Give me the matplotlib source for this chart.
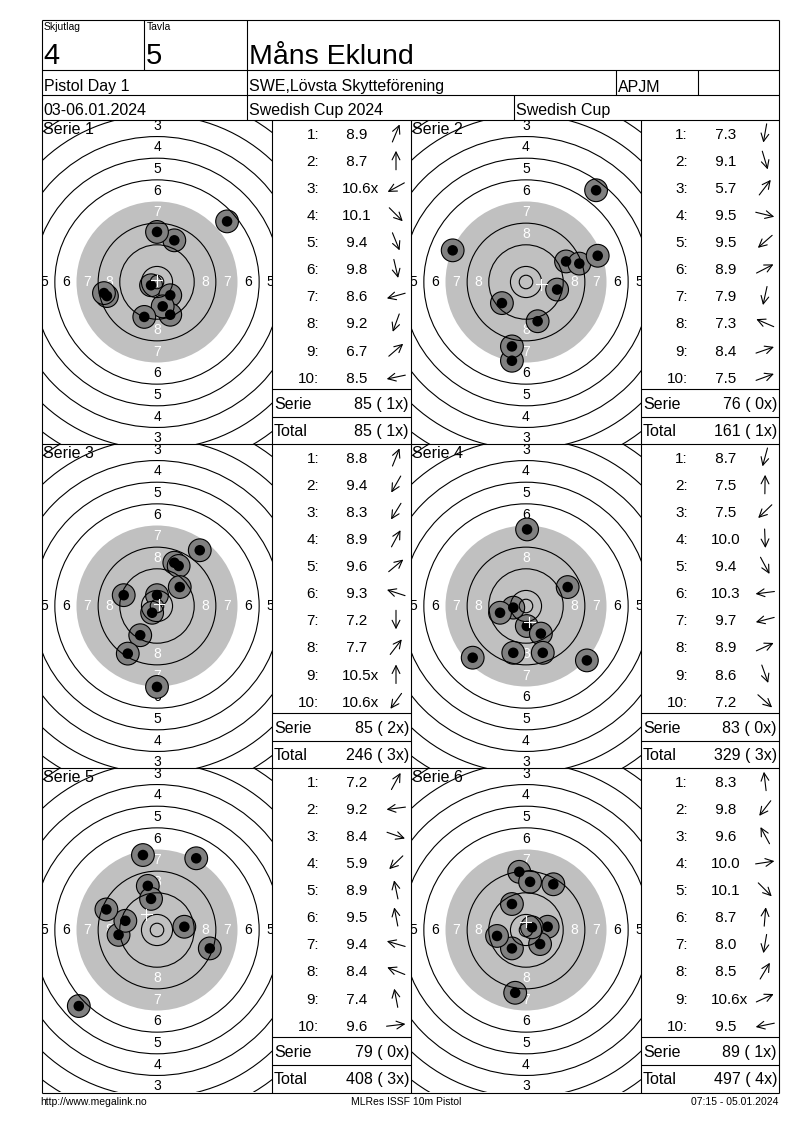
import math
import matplotlib
matplotlib.use("Agg")
import matplotlib.pyplot as plt
from matplotlib.patches import Circle, FancyArrowPatch

plt.rcParams['font.family'] = ['Liberation Sans', 'DejaVu Sans']

# ---------------- data ----------------
shooter_name = "Måns Eklund"
relay_label, relay_value = "Skjutlag", "4"
lane_label, lane_value = "Tavla", "5"
event_name = "Pistol Day 1"
club_name = "SWE,Lövsta Skytteförening"
class_code = "APJM"
date_text = "03-06.01.2024"
competition = "Swedish Cup 2024"
cup_name = "Swedish Cup"
footer_left = "http://www.megalink.no"
footer_mid = "MLRes ISSF 10m Pistol"
footer_right = "07:15 - 05.01.2024"

series_labels = ["Serie 1", "Serie 2", "Serie 3", "Serie 4", "Serie 5", "Serie 6"]

# shot values per series
scores_s1 = [8.9, 8.7, 10.6, 10.1, 9.4, 9.8, 8.6, 9.2, 6.7, 8.5]
scores_s2 = [7.3, 9.1, 5.7, 9.5, 9.5, 8.9, 7.9, 7.3, 8.4, 7.5]
scores_s3 = [8.8, 9.4, 8.3, 8.9, 9.6, 9.3, 7.2, 7.7, 10.5, 10.6]
scores_s4 = [8.7, 7.5, 7.5, 10.0, 9.4, 10.3, 9.7, 8.9, 8.6, 7.2]
scores_s5 = [7.2, 9.2, 8.4, 5.9, 8.9, 9.5, 9.4, 8.4, 7.4, 9.6]
scores_s6 = [8.3, 9.8, 9.6, 10.0, 10.1, 8.7, 8.0, 8.5, 10.6, 9.5]

# inner-ten flags
inner_s1 = [0, 0, 1, 0, 0, 0, 0, 0, 0, 0]
inner_s2 = [0, 0, 0, 0, 0, 0, 0, 0, 0, 0]
inner_s3 = [0, 0, 0, 0, 0, 0, 0, 0, 1, 1]
inner_s4 = [0, 0, 0, 0, 0, 0, 0, 0, 0, 0]
inner_s5 = [0, 0, 0, 0, 0, 0, 0, 0, 0, 0]
inner_s6 = [0, 0, 0, 0, 0, 0, 0, 0, 1, 0]

# shot positions on the target (mm, x right, y up)
x_s1 = [6.4, 0.0, -2.2, 4.9, 4.9, 2.1, -18.5, -4.7, 25.9, -19.6]
y_s1 = [15.4, 18.5, -1.2, -4.9, -12.1, -9.0, -5.2, -12.9, 22.4, -4.1]
x_s2 = [-5.2, 4.3, 25.9, 11.5, -8.9, 14.8, -5.2, -27.1, 19.7, 26.5]
y_s2 = [-29.1, -14.5, 33.9, -2.8, -7.8, 7.6, -23.8, 11.7, 6.8, 9.7]
x_s3 = [6.4, -6.2, -10.8, 8.0, 8.4, -12.3, 0.0, 15.8, 0.0, -1.8]
y_s3 = [16.0, -10.8, -17.6, 14.8, 7.0, 4.0, -29.9, 20.6, 4.0, -2.5]
x_s4 = [-4.7, 0.4, -19.7, 0.3, 5.5, -4.7, -9.6, 15.4, 6.2, 22.5]
y_s4 = [-17.3, 28.3, -19.1, -7.4, -10.2, -0.6, -2.5, 7.0, -17.3, -20.1]
x_s5 = [14.5, -14.2, 19.5, -28.9, -3.4, -2.2, -11.7, -18.7, -5.2, 10.1]
y_s5 = [26.5, -1.8, -6.8, -28.1, 16.3, 11.5, 3.4, 7.6, 27.7, 1.2]
x_s6 = [-2.5, -5.2, -5.2, 8.0, 5.2, 1.5, -4.0, 10.1, 2.2, -10.7]
y_s6 = [21.5, -6.8, 9.6, 1.2, -5.2, 17.8, -23.2, 16.9, 1.0, -2.2]

# 10m pistol target ring radii (mm), ring 1 .. ring 10, plus inner ten
ring_numbers = [1, 2, 3, 4, 5, 6, 7, 8, 9, 10]
ring_radius_mm = [77.75, 69.75, 61.75, 53.75, 45.75, 37.75, 29.75, 21.75, 13.75, 5.75]
inner_ten_mm = 2.5
labelled_rings = [1, 2, 3, 4, 5, 6, 7, 8]

all_scores = [scores_s1, scores_s2, scores_s3, scores_s4, scores_s5, scores_s6]
all_inner = [inner_s1, inner_s2, inner_s3, inner_s4, inner_s5, inner_s6]
all_x = [x_s1, x_s2, x_s3, x_s4, x_s5, x_s6]
all_y = [y_s1, y_s2, y_s3, y_s4, y_s5, y_s6]

# ---------------- layout ----------------
W, H = 800, 1130
fig = plt.figure(figsize=(W / 100, H / 100), dpi=100)
fig.patch.set_facecolor("white")
PX_PER_MM = 2.706
LW = 0.8

L, R, T, B = 42, 779, 20, 1093
PANEL_TOP0 = 120
PANEL_H = 324
TARGET_W = 230
COL_LEFT = [42, 411]
TABLE_RIGHT = [411, 779]

GRAY_BLACK = "#c0c0c0"
SHOT_GRAY = "#808080"

# ---------------- targets ----------------
for i in range(6):
    r, c = divmod(i, 2)
    left = COL_LEFT[c]
    top = PANEL_TOP0 + r * PANEL_H
    tax = fig.add_axes([left / W, 1 - (top + PANEL_H) / H, TARGET_W / W, PANEL_H / H])
    hw = TARGET_W / 2 / PX_PER_MM
    hh = PANEL_H / 2 / PX_PER_MM
    tax.set_xlim(-hw, hw)
    tax.set_ylim(-hh, hh)
    tax.axis("off")

    tax.add_patch(Circle((0, 0), ring_radius_mm[6], fc=GRAY_BLACK, ec="none", zorder=1))

    for k in labelled_rings:
        rad = (ring_radius_mm[k - 1] + ring_radius_mm[k]) / 2
        col = "white" if k >= 7 else "black"
        for px, py in [(0, rad), (0, -rad), (rad, 0), (-rad, 0)]:
            if abs(px) >= hw or abs(py) >= hh:
                continue
            tax.text(px, py, str(k), ha="center", va="center", fontsize=10,
                     color=col, zorder=1.5, clip_on=True)

    xs, ys = all_x[i], all_y[i]
    for x, y in zip(xs, ys):
        tax.add_patch(Circle((x, y), 4.2, fc=SHOT_GRAY, ec="black", lw=LW, zorder=2))
        tax.add_patch(Circle((x, y), 1.95, fc="black", ec="none", zorder=2.1))

    for num, rad in zip(ring_numbers, ring_radius_mm):
        if num == 7:
            continue
        tax.add_patch(Circle((0, 0), rad, fill=False, ec="black", lw=LW, zorder=3))
    tax.add_patch(Circle((0, 0), inner_ten_mm, fill=False, ec="black", lw=LW, zorder=3))

    mx = sum(xs) / len(xs)
    my = sum(ys) / len(ys)
    cs = 2.0
    tax.plot([mx - cs, mx + cs], [my, my], color="white", lw=LW, zorder=5)
    tax.plot([mx, mx], [my - cs, my + cs], color="white", lw=LW, zorder=5)

# ---------------- overlay (frames, texts, tables) ----------------
ax = fig.add_axes([0, 0, 1, 1])
ax.set_xlim(0, W)
ax.set_ylim(H, 0)
ax.axis("off")


def hline(y, x0, x1):
    ax.plot([x0, x1], [y, y], color="black", lw=LW, solid_capstyle="butt")


def vline(x, y0, y1):
    ax.plot([x, x], [y0, y1], color="black", lw=LW, solid_capstyle="butt")


# outer border
hline(T, L, R)
hline(B, L, R)
vline(L, T, B)
vline(R, T, B)
# header
hline(70, L, R)
hline(95, L, R)
hline(120, L, R)
vline(144, T, 70)
vline(247, T, 120)
vline(616, 70, 95)
vline(698, 70, 95)
vline(514, 95, 120)

ax.text(44, 30.5, relay_label, fontsize=7.5, ha="left", va="baseline")
ax.text(147, 30.5, lane_label, fontsize=7.5, ha="left", va="baseline")
ax.text(43, 64, relay_value, fontsize=21, ha="left", va="baseline")
ax.text(146, 64, lane_value, fontsize=21, ha="left", va="baseline")
ax.text(249, 64, shooter_name, fontsize=20.5, ha="left", va="baseline")
ax.text(44, 91.5, event_name, fontsize=11.5, ha="left", va="baseline")
ax.text(249, 91.5, club_name, fontsize=11.5, ha="left", va="baseline")
ax.text(618, 91.5, class_code, fontsize=11.5, ha="left", va="baseline")
ax.text(43, 115, date_text, fontsize=11.5, ha="left", va="baseline")
ax.text(249, 115, competition, fontsize=11.5, ha="left", va="baseline")
ax.text(516, 115, cup_name, fontsize=11.5, ha="left", va="baseline")

# panel grid
for r in range(1, 3):
    hline(PANEL_TOP0 + r * PANEL_H, L, R)
for xv in [272, 411, 641]:
    vline(xv, PANEL_TOP0, B)

running_total = 0
running_x = 0
ARROW_LEN = 19
for i in range(6):
    r, c = divmod(i, 2)
    left = COL_LEFT[c]
    top = PANEL_TOP0 + r * PANEL_H
    tl = left + TARGET_W
    tr = TABLE_RIGHT[c]

    ax.text(left + 1, top + 14, series_labels[i], fontsize=11.5, ha="left", va="baseline", zorder=6)

    scores = all_scores[i]
    inner = all_inner[i]
    for j, (s, flag) in enumerate(zip(scores, inner)):
        yb = top + 18.7 + 27.1 * j
        ax.text(tl + 47, yb, f"{j + 1}:", fontsize=11, ha="right", va="baseline")
        ax.text(tl + 70, yb, f"{s:4.1f}" + ("x" if flag else ""), fontsize=11,
                ha="left", va="baseline")
        dx, dy = all_x[i][j], -all_y[i][j]
        n = math.hypot(dx, dy)
        ux, uy = dx / n, dy / n
        cx, cy = tl + 124, yb - 5.5
        arr = FancyArrowPatch((cx - ux * ARROW_LEN / 2, cy - uy * ARROW_LEN / 2),
                              (cx + ux * ARROW_LEN / 2, cy + uy * ARROW_LEN / 2),
                              arrowstyle="->,head_length=0.7,head_width=0.35",
                              mutation_scale=8, lw=LW, color="black",
                              shrinkA=0, shrinkB=0)
        ax.add_patch(arr)

    serie = sum(math.floor(s + 1e-9) for s in scores)
    xc = sum(inner)
    running_total += serie
    running_x += xc

    hline(top + 269.3, tl, tr)
    hline(top + 296.7, tl, tr)
    ax.text(tl + 2, top + 289.3, "Serie", fontsize=11.5, ha="left", va="baseline")
    ax.text(tr - 2, top + 289.3, f"{serie} ({xc:2d}x)", fontsize=11.5, ha="right", va="baseline")
    ax.text(tl + 2, top + 316, "Total", fontsize=11.5, ha="left", va="baseline")
    ax.text(tr - 2, top + 316, f"{running_total} ({running_x:2d}x)", fontsize=11.5,
            ha="right", va="baseline")

# footer
ax.text(40, 1105, footer_left, fontsize=7.5, ha="left", va="baseline")
ax.text(406, 1105, footer_mid, fontsize=7.5, ha="center", va="baseline")
ax.text(778, 1105, footer_right, fontsize=7.5, ha="right", va="baseline")

fig.savefig("out.png", dpi=100, facecolor="white")
